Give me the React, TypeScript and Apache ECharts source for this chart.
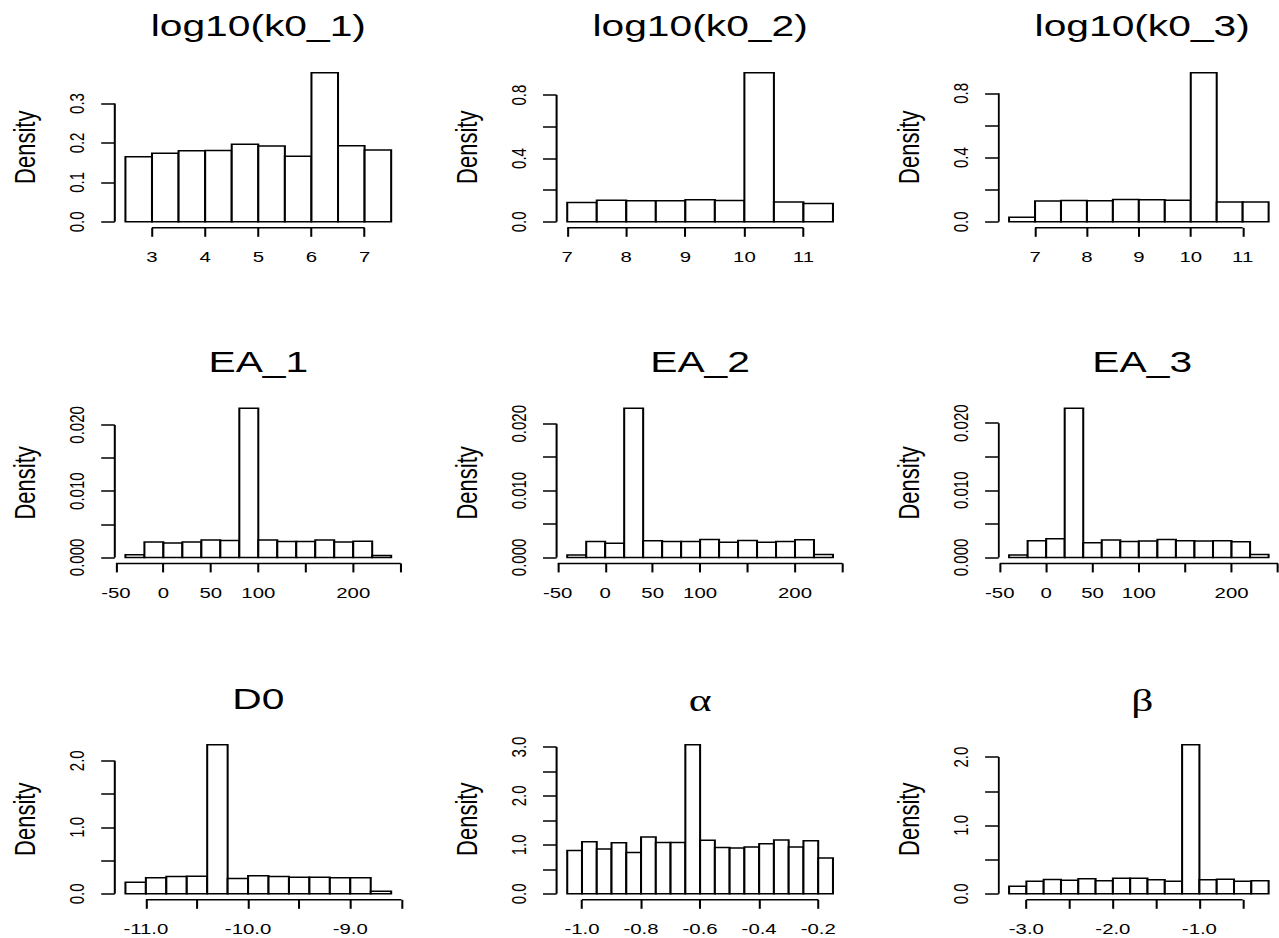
import React, { useEffect, useRef } from "react";
import * as echarts from "echarts";

// ---------------- data ----------------
const k01Breaks = [2.5, 3, 3.5, 4, 4.5, 5, 5.5, 6, 6.5, 7, 7.5];
const k01Density = [0.165, 0.174, 0.18, 0.181, 0.197, 0.192, 0.166, 0.378, 0.193, 0.182];
const k01XTicks = [3, 4, 5, 6, 7];
const k01XLabels = [3, 4, 5, 6, 7];
const k01YTicks = [0, 0.1, 0.2, 0.3];
const k01YLabels = [0, 0.1, 0.2, 0.3];

const k02Breaks = [7, 7.5, 8, 8.5, 9, 9.5, 10, 10.5, 11, 11.5];
const k02Density = [0.122, 0.137, 0.133, 0.133, 0.139, 0.135, 0.941, 0.126, 0.116];
const k03Breaks = [6.5, 7, 7.5, 8, 8.5, 9, 9.5, 10, 10.5, 11, 11.5];
const k03Density = [0.029, 0.129, 0.133, 0.131, 0.139, 0.137, 0.135, 0.928, 0.123, 0.123];
const k0XTicks = [7, 8, 9, 10, 11];
const k0XLabels = [7, 8, 9, 10, 11];
const k0YTicks = [0, 0.2, 0.4, 0.6, 0.8];
const k0YLabels = [0, 0.4, 0.8];

const eaBreaks = [-40, -20, 0, 20, 40, 60, 80, 100, 120, 140, 160, 180, 200, 220, 240];
const ea1Density = [0.0004, 0.00232, 0.00217, 0.00232, 0.00262, 0.00256, 0.0225, 0.00262, 0.00241, 0.00241, 0.00262, 0.00232, 0.00246, 0.0003];
const ea2Density = [0.00035, 0.0024, 0.00214, 0.0223, 0.0025, 0.0024, 0.0024, 0.0027, 0.00229, 0.00254, 0.00229, 0.0024, 0.00264, 0.00045];
const ea3Density = [0.00035, 0.00248, 0.00278, 0.0222, 0.00218, 0.00258, 0.00238, 0.00243, 0.00268, 0.00248, 0.00243, 0.00248, 0.00233, 0.00045];
const eaXTicks = [-50, 0, 50, 100, 150, 200, 250];
const eaXLabels = [-50, 0, 50, 100, 200];
const eaYTicks = [0, 0.005, 0.01, 0.015, 0.02];
const eaYLabels = [0, 0.01, 0.02];

const d0Breaks = [-11.2, -11.0, -10.8, -10.6, -10.4, -10.2, -10.0, -9.8, -9.6, -9.4, -9.2, -9.0, -8.8, -8.6];
const d0Density = [0.175, 0.241, 0.261, 0.266, 2.24, 0.231, 0.271, 0.261, 0.25, 0.25, 0.241, 0.241, 0.04];
const d0XTicks = [-11, -10.5, -10, -9.5, -9, -8.5];
const d0XLabels = [-11, -10, -9];
const d0YTicks = [0, 0.5, 1, 1.5, 2];
const d0YLabels = [0, 1, 2];

const alphaBreaks = [-1.05, -1.0, -0.95, -0.9, -0.85, -0.8, -0.75, -0.7, -0.65, -0.6, -0.55, -0.5, -0.45, -0.4, -0.35, -0.3, -0.25, -0.2, -0.15];
const alphaDensity = [0.888, 1.066, 0.915, 1.045, 0.847, 1.16, 1.05, 1.05, 3.046, 1.093, 0.949, 0.935, 0.955, 1.025, 1.1, 0.955, 1.086, 0.73];
const alphaXTicks = [-1.0, -0.8, -0.6, -0.4, -0.2];
const alphaXLabels = [-1.0, -0.8, -0.6, -0.4, -0.2];
const alphaYTicks = [0, 0.5, 1, 1.5, 2, 2.5, 3];
const alphaYLabels = [0, 1, 2, 3];

const betaBreaks = [-3.2, -3.0, -2.8, -2.6, -2.4, -2.2, -2.0, -1.8, -1.6, -1.4, -1.2, -1.0, -0.8, -0.6, -0.4, -0.2];
const betaDensity = [0.112, 0.185, 0.21, 0.2, 0.22, 0.19, 0.229, 0.229, 0.205, 0.185, 2.18, 0.205, 0.214, 0.185, 0.19];
const betaXTicks = [-3, -2.5, -2, -1.5, -1, -0.5];
const betaXLabels = [-3, -2, -1];
const betaYTicks = [0, 0.5, 1, 1.5, 2];
const betaYLabels = [0, 1, 2];

const titles = ["log10(k0_1)", "log10(k0_2)", "log10(k0_3)", "EA_1", "EA_2", "EA_3", "D0", "\u03b1", "\u03b2"];

// ---------------- layout ----------------
const W0 = 941;
const H = 938;
const K = 1279 / W0; // horizontal stretch of the reference
const px = (x: number) => x / K;
const colLeft = [114.8, 556.6, 998.7];
const plotW = 287;
const rowTop = [66.8, 402.4, 738.8];
const plotH = 161;
const titleY = [26, 361.5, 698.5];
const FONT = "'Liberation Sans', Arial, Helvetica, sans-serif";

type Panel = {
  title: string;
  breaks: number[];
  density: number[];
  xTicks: number[];
  xLabels: number[];
  xDec: number;
  yTicks: number[];
  yLabels: number[];
  yDec: number;
  greek?: boolean;
};

const panels: Panel[] = [
  { title: titles[0], breaks: k01Breaks, density: k01Density, xTicks: k01XTicks, xLabels: k01XLabels, xDec: 0, yTicks: k01YTicks, yLabels: k01YLabels, yDec: 1 },
  { title: titles[1], breaks: k02Breaks, density: k02Density, xTicks: k0XTicks, xLabels: k0XLabels, xDec: 0, yTicks: k0YTicks, yLabels: k0YLabels, yDec: 1 },
  { title: titles[2], breaks: k03Breaks, density: k03Density, xTicks: k0XTicks, xLabels: k0XLabels, xDec: 0, yTicks: k0YTicks, yLabels: k0YLabels, yDec: 1 },
  { title: titles[3], breaks: eaBreaks, density: ea1Density, xTicks: eaXTicks, xLabels: eaXLabels, xDec: 0, yTicks: eaYTicks, yLabels: eaYLabels, yDec: 3 },
  { title: titles[4], breaks: eaBreaks, density: ea2Density, xTicks: eaXTicks, xLabels: eaXLabels, xDec: 0, yTicks: eaYTicks, yLabels: eaYLabels, yDec: 3 },
  { title: titles[5], breaks: eaBreaks, density: ea3Density, xTicks: eaXTicks, xLabels: eaXLabels, xDec: 0, yTicks: eaYTicks, yLabels: eaYLabels, yDec: 3 },
  { title: titles[6], breaks: d0Breaks, density: d0Density, xTicks: d0XTicks, xLabels: d0XLabels, xDec: 1, yTicks: d0YTicks, yLabels: d0YLabels, yDec: 1 },
  { title: titles[7], breaks: alphaBreaks, density: alphaDensity, xTicks: alphaXTicks, xLabels: alphaXLabels, xDec: 1, yTicks: alphaYTicks, yLabels: alphaYLabels, yDec: 1, greek: true },
  { title: titles[8], breaks: betaBreaks, density: betaDensity, xTicks: betaXTicks, xLabels: betaXLabels, xDec: 1, yTicks: betaYTicks, yLabels: betaYLabels, yDec: 1, greek: true },
];

function buildOption() {
  const grid: any[] = [];
  const xAxis: any[] = [];
  const yAxis: any[] = [];
  const series: any[] = [];
  const graphic: any[] = [];

  panels.forEach((p, i) => {
    const row = Math.floor(i / 3);
    const col = i % 3;
    const left = px(colLeft[col]);
    const width = px(plotW);
    grid.push({ left, top: rowTop[row], width, height: plotH, containLabel: false });

    const b0 = p.breaks[0];
    const b1 = p.breaks[p.breaks.length - 1];
    const xr = b1 - b0;
    const xMin = b0 - 0.04 * xr;
    const xMax = b1 + 0.04 * xr;
    const dMax = Math.max(...p.density);
    const yMin = -0.04 * dMax;
    const yMax = 1.04 * dMax;

    xAxis.push({
      gridIndex: i,
      type: "value",
      position: "bottom",
      min: xMin,
      max: xMax,
      axisLine: { show: false, onZero: false },
      splitLine: { show: false },
      axisTick: { show: true, customValues: p.xTicks, length: 9, inside: false, lineStyle: { color: "#000", width: 1.5 } },
      axisLabel: {
        customValues: p.xLabels,
        formatter: (v: number) => Number(v).toFixed(p.xDec),
        margin: 22,
        fontSize: 15,
        color: "#000",
        fontFamily: FONT,
      },
    });
    yAxis.push({
      gridIndex: i,
      type: "value",
      position: "left",
      min: yMin,
      max: yMax,
      name: "Density",
      nameLocation: "middle",
      nameRotate: 90,
      nameGap: 55,
      nameTextStyle: { fontSize: 22, color: "#000", fontFamily: FONT },
      axisLine: { show: false, onZero: false },
      splitLine: { show: false },
      axisTick: { show: true, customValues: p.yTicks, length: 10, inside: false, lineStyle: { color: "#000", width: 1.5 } },
      axisLabel: {
        customValues: p.yLabels,
        formatter: (v: number) => Number(v).toFixed(p.yDec),
        rotate: 90,
        margin: 20,
        fontSize: 15,
        color: "#000",
        fontFamily: FONT,
      },
    });

    const bins = p.density.map((d, j) => [p.breaks[j], p.breaks[j + 1], d]);
    series.push({
      type: "custom",
      xAxisIndex: i,
      yAxisIndex: i,
      data: bins,
      encode: { x: [0, 1], y: 2 },
      clip: false,
      renderItem: (params: any, api: any) => {
        const a = api.coord([api.value(0), api.value(2)]);
        const c = api.coord([api.value(1), 0]);
        return {
          type: "rect",
          shape: { x: a[0], y: a[1], width: c[0] - a[0], height: c[1] - a[1] },
          style: { fill: "#fff", stroke: "#000", lineWidth: 1.5 },
        };
      },
    });
    // axis lines spanning first..last tick, as R draws them
    series.push({
      type: "line",
      xAxisIndex: i,
      yAxisIndex: i,
      data: [
        [p.xTicks[0], yMin],
        [p.xTicks[p.xTicks.length - 1], yMin],
      ],
      symbol: "none",
      clip: false,
      silent: true,
      lineStyle: { color: "#000", width: 1.5 },
    });
    series.push({
      type: "line",
      xAxisIndex: i,
      yAxisIndex: i,
      data: [
        [xMin, p.yTicks[0]],
        [xMin, p.yTicks[p.yTicks.length - 1]],
      ],
      symbol: "none",
      clip: false,
      silent: true,
      lineStyle: { color: "#000", width: 1.5 },
    });

    graphic.push({
      type: "text",
      x: left + width / 2,
      y: p.greek ? titleY[row] + 2 : titleY[row],
      style: {
        text: p.title,
        fill: "#000",
        font: p.greek ? "32px 'Liberation Serif', 'DejaVu Serif', serif" : `30px ${FONT}`,
        textAlign: "center",
        textVerticalAlign: "middle",
        align: "center",
        verticalAlign: "middle",
      },
    });
  });

  return {
    animation: false,
    backgroundColor: "#fff",
    textStyle: { fontFamily: FONT },
    grid,
    xAxis,
    yAxis,
    series,
    graphic,
  };
}

export default function App() {
  const ref = useRef<HTMLDivElement>(null);
  useEffect(() => {
    document.body.style.margin = "0";
    document.body.style.overflow = "hidden";
    document.documentElement.style.overflow = "hidden";
    const chart = echarts.init(ref.current as HTMLDivElement, null, { renderer: "svg" });
    chart.setOption(buildOption() as any);
    return () => chart.dispose();
  }, []);
  return (
    <div
      ref={ref}
      style={{
        position: "absolute",
        left: 0,
        top: 0,
        width: W0,
        height: H,
        transform: `scaleX(${K})`,
        transformOrigin: "0 0",
        background: "#fff",
      }}
    />
  );
}
